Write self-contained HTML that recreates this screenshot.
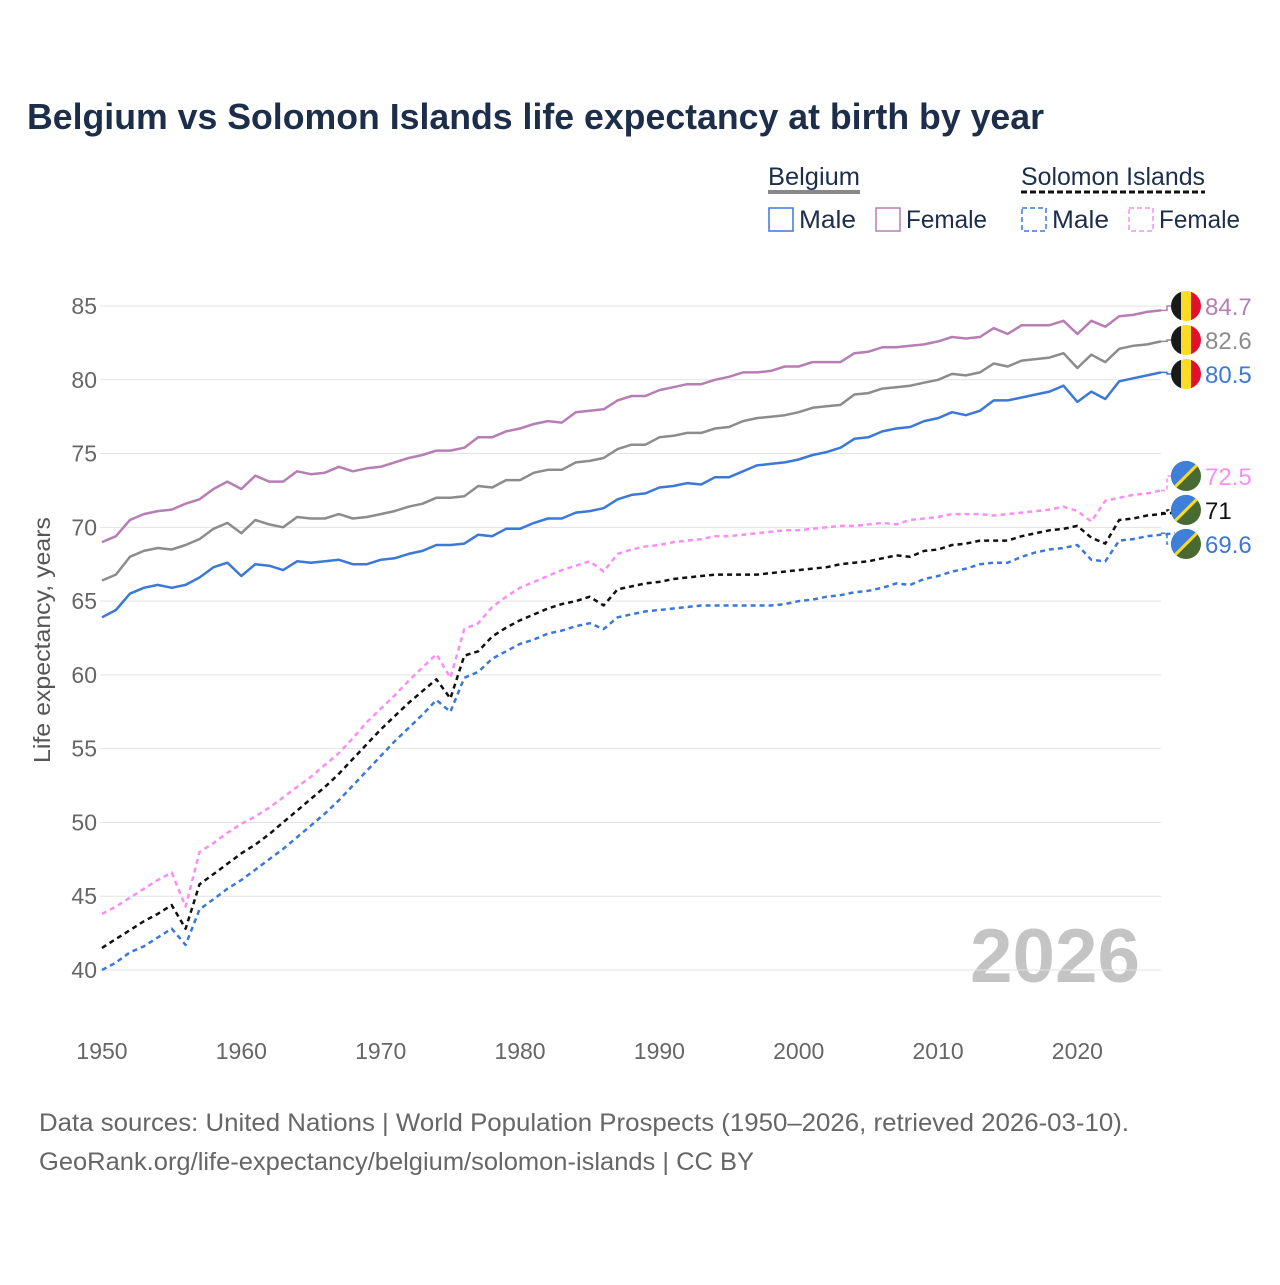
<!DOCTYPE html>
<html><head><meta charset="utf-8"><style>
body{margin:0;background:#fff;}
svg text{font-family:"Liberation Sans",sans-serif;}
</style></head><body>
<svg id="chart" width="1280" height="1280" xmlns="http://www.w3.org/2000/svg">
<text x="27" y="129" font-size="36" font-weight="bold" fill="#1d2e4a" textLength="1017" lengthAdjust="spacingAndGlyphs">Belgium vs Solomon Islands life expectancy at birth by year</text>
<g font-size="25" fill="#1d2e4a">
<text x="768" y="185" fill="#1d2e4a" textLength="92" lengthAdjust="spacingAndGlyphs">Belgium</text>
<line x1="768" y1="192" x2="860" y2="192" stroke="#888" stroke-width="4"/>
<text x="1021" y="185" fill="#1d2e4a" textLength="184" lengthAdjust="spacingAndGlyphs">Solomon Islands</text>
<line x1="1021" y1="192" x2="1205" y2="192" stroke="#111" stroke-width="3" stroke-dasharray="6,3"/>
<g><rect x="769" y="208" width="24" height="23" fill="none" stroke="#3b78d8" stroke-width="1.5"/><text x="799" y="228" textLength="57" lengthAdjust="spacingAndGlyphs">Male</text></g>
<g><rect x="876" y="208" width="24" height="23" fill="none" stroke="#b77db5" stroke-width="1.5"/><text x="906" y="228" textLength="81" lengthAdjust="spacingAndGlyphs">Female</text></g>
<g><rect x="1022" y="208" width="24" height="23" fill="none" stroke="#3b78d8" stroke-width="1.5" stroke-dasharray="5,3"/><text x="1052" y="228" textLength="57" lengthAdjust="spacingAndGlyphs">Male</text></g>
<g><rect x="1129" y="208" width="24" height="23" fill="none" stroke="#f98ff5" stroke-width="1.5" stroke-dasharray="5,3"/><text x="1159" y="228" textLength="81" lengthAdjust="spacingAndGlyphs">Female</text></g>
</g>
<text transform="translate(50,640) rotate(-90)" text-anchor="middle" font-size="23" fill="#555" textLength="246" lengthAdjust="spacingAndGlyphs">Life expectancy, years</text>
<text x="1140" y="982" text-anchor="end" font-size="76" font-weight="bold" fill="#c4c4c4" textLength="170" lengthAdjust="spacingAndGlyphs">2026</text>
<g id="grid"></g><g id="series"></g><g id="labels"></g>
<text x="39" y="1131" font-size="25" fill="#666" textLength="1090" lengthAdjust="spacingAndGlyphs">Data sources: United Nations | World Population Prospects (1950–2026, retrieved 2026-03-10).</text>
<text x="39" y="1170" font-size="25" fill="#666" textLength="715" lengthAdjust="spacingAndGlyphs">GeoRank.org/life-expectancy/belgium/solomon-islands | CC BY</text>
</svg>
<script>
const startYear = 1950;
const yTicks = [40,45,50,55,60,65,70,75,80,85];
const xTicks = [1950,1960,1970,1980,1990,2000,2010,2020];
const belgiumFemale = [69.0,69.4,70.5,70.9,71.1,71.2,71.6,71.9,72.6,73.1,72.6,73.5,73.1,73.1,73.8,73.6,73.7,74.1,73.8,74.0,74.1,74.4,74.7,74.9,75.2,75.2,75.4,76.1,76.1,76.5,76.7,77.0,77.2,77.1,77.8,77.9,78.0,78.6,78.9,78.9,79.3,79.5,79.7,79.7,80.0,80.2,80.5,80.5,80.6,80.9,80.9,81.2,81.2,81.2,81.8,81.9,82.2,82.2,82.3,82.4,82.6,82.9,82.8,82.9,83.5,83.1,83.7,83.7,83.7,84.0,83.1,84.0,83.6,84.3,84.4,84.6,84.7];
const belgiumTotal = [66.4,66.8,68.0,68.4,68.6,68.5,68.8,69.2,69.9,70.3,69.6,70.5,70.2,70.0,70.7,70.6,70.6,70.9,70.6,70.7,70.9,71.1,71.4,71.6,72.0,72.0,72.1,72.8,72.7,73.2,73.2,73.7,73.9,73.9,74.4,74.5,74.7,75.3,75.6,75.6,76.1,76.2,76.4,76.4,76.7,76.8,77.2,77.4,77.5,77.6,77.8,78.1,78.2,78.3,79.0,79.1,79.4,79.5,79.6,79.8,80.0,80.4,80.3,80.5,81.1,80.9,81.3,81.4,81.5,81.8,80.8,81.7,81.2,82.1,82.3,82.4,82.6];
const belgiumMale = [63.9,64.4,65.5,65.9,66.1,65.9,66.1,66.6,67.3,67.6,66.7,67.5,67.4,67.1,67.7,67.6,67.7,67.8,67.5,67.5,67.8,67.9,68.2,68.4,68.8,68.8,68.9,69.5,69.4,69.9,69.9,70.3,70.6,70.6,71.0,71.1,71.3,71.9,72.2,72.3,72.7,72.8,73.0,72.9,73.4,73.4,73.8,74.2,74.3,74.4,74.6,74.9,75.1,75.4,76.0,76.1,76.5,76.7,76.8,77.2,77.4,77.8,77.6,77.9,78.6,78.6,78.8,79.0,79.2,79.6,78.5,79.2,78.7,79.9,80.1,80.3,80.5];
const solomonFemale = [43.8,44.3,44.9,45.5,46.1,46.6,44.3,48.0,48.6,49.3,49.9,50.4,51.0,51.7,52.4,53.1,53.9,54.7,55.7,56.8,57.7,58.6,59.6,60.5,61.4,59.8,63.1,63.5,64.6,65.3,65.9,66.3,66.7,67.1,67.4,67.7,67.0,68.2,68.5,68.7,68.8,69.0,69.1,69.2,69.4,69.4,69.5,69.6,69.7,69.8,69.8,69.9,70.0,70.1,70.1,70.2,70.3,70.2,70.5,70.6,70.7,70.9,70.9,70.9,70.8,70.9,71.0,71.1,71.2,71.4,71.1,70.4,71.8,72.0,72.2,72.3,72.5];
const solomonTotal = [41.5,42.1,42.7,43.3,43.8,44.4,42.8,45.8,46.5,47.2,47.9,48.5,49.2,50.0,50.8,51.6,52.4,53.3,54.3,55.3,56.3,57.2,58.1,58.9,59.7,58.4,61.3,61.6,62.6,63.2,63.7,64.1,64.5,64.8,65.0,65.3,64.7,65.8,66.0,66.2,66.3,66.5,66.6,66.7,66.8,66.8,66.8,66.8,66.9,67.0,67.1,67.2,67.3,67.5,67.6,67.7,67.9,68.1,68.0,68.4,68.5,68.8,68.9,69.1,69.1,69.1,69.4,69.6,69.8,69.9,70.1,69.3,68.9,70.5,70.6,70.8,70.9,71.0];
const solomonMale = [40.0,40.5,41.2,41.6,42.2,42.8,41.7,44.1,44.8,45.5,46.1,46.8,47.5,48.2,49.0,49.8,50.6,51.5,52.5,53.5,54.5,55.5,56.4,57.3,58.3,57.5,59.8,60.2,61.1,61.6,62.1,62.4,62.8,63.0,63.3,63.5,63.1,63.9,64.1,64.3,64.4,64.5,64.6,64.7,64.7,64.7,64.7,64.7,64.7,64.8,65.0,65.1,65.3,65.4,65.6,65.7,65.9,66.2,66.1,66.5,66.7,67.0,67.2,67.5,67.6,67.6,68.0,68.3,68.5,68.6,68.8,67.8,67.7,69.1,69.2,69.4,69.5,69.6];
const endLabels = ["84.7","82.6","80.5","72.5","71","69.6"];

const NS="http://www.w3.org/2000/svg";
const X0=102, X1=1161, Y0=970, Y1=306;
function xs(yr){return X0+(yr-1950)*(X1-X0)/76;}
function ys(v){return Y0-(v-40)*(Y0-Y1)/45;}
function mk(tag,attrs,parent){const e=document.createElementNS(NS,tag);for(const k in attrs)e.setAttribute(k,attrs[k]);parent.appendChild(e);return e;}
const grid=document.getElementById('grid');
yTicks.forEach(t=>{
  const l=mk('line',{x1:100,x2:1161,y1:ys(t),y2:ys(t),stroke:'#e3e3e3','stroke-width':1},grid);
  
  
  const tx=mk('text',{x:97,y:ys(t)+8,'text-anchor':'end','font-size':23,fill:'#666'},grid);
  
  
  tx.textContent=t;
});
xTicks.forEach(t=>{
  const tx=mk('text',{x:xs(t),y:1059,'text-anchor':'middle','font-size':23,fill:'#666'},grid);
  
  
  tx.textContent=t;
});
const seriesG=document.getElementById('series');
const defs=[
 [solomonMale,'#3b78d8','5,4','series-solomon-male'],
 [solomonTotal,'#111','5,4','series-solomon-total'],
 [solomonFemale,'#f98ff5','5,4','series-solomon-female'],
 [belgiumMale,'#3b78d8','','series-belgium-male'],
 [belgiumTotal,'#8c8c8c','','series-belgium-total'],
 [belgiumFemale,'#b77db5','','series-belgium-female']];
defs.forEach(d=>{
  const pts=d[0].map((v,i)=>xs(startYear+i).toFixed(1)+','+ys(v).toFixed(1)).join(' ');
  const p=mk('polyline',{points:pts,fill:'none',stroke:d[1],'stroke-width':2.5,'stroke-linejoin':'round'},seriesG);
  if(d[2])p.setAttribute('stroke-dasharray',d[2]);
  
  
});
const lab=document.getElementById('labels');
const lastVals=[belgiumFemale,belgiumTotal,belgiumMale,solomonFemale,solomonTotal,solomonMale].map(a=>a[a.length-1]);
const labY=[306,340,374,476,510,544];
const labCol=['#b77db5','#8c8c8c','#3b78d8','#f98ff5','#111','#3b78d8'];
const labDash=['','','','4,3','4,3','4,3'];
lastVals.forEach((v,i)=>{
  const yv=ys(v), yl=labY[i];
  const c=mk('polyline',{points:`${X1},${yv} ${X1+6},${yv} ${X1+6},${yl} ${X1+12},${yl}`,fill:'none',stroke:labCol[i],'stroke-width':1.5},lab);
  if(labDash[i])c.setAttribute('stroke-dasharray',labDash[i]);
  
  
  const g=mk('g',{},lab);
  
  
  const cx=1186, r=15;
  const cid='clip'+i;
  const cp=mk('clipPath',{id:cid},g); mk('circle',{cx:cx,cy:yl,r:r},cp);
  const inner=mk('g',{'clip-path':`url(#${cid})`},g);
  if(i<3){
    mk('rect',{x:cx-r,y:yl-r,width:10,height:2*r,fill:'#1a1a1a'},inner);
    mk('rect',{x:cx-5,y:yl-r,width:10,height:2*r,fill:'#fdda24'},inner);
    mk('rect',{x:cx+5,y:yl-r,width:10,height:2*r,fill:'#e0102e'},inner);
  } else {
    mk('rect',{x:cx-r,y:yl-r,width:2*r,height:2*r,fill:'#4a6a33'},inner);
    mk('polygon',{points:`${cx-r},${yl-r} ${cx+r},${yl-r} ${cx-r},${yl+r}`,fill:'#3d7fd9'},inner);
    mk('line',{x1:cx-r,y1:yl+r,x2:cx+r,y2:yl-r,stroke:'#fdda24','stroke-width':3},inner);
  }
  const t=mk('text',{x:1205,y:yl+9,'font-size':24,fill:labCol[i]},lab);
  
  
  t.textContent=endLabels[i];
});
</script>
</body></html>
